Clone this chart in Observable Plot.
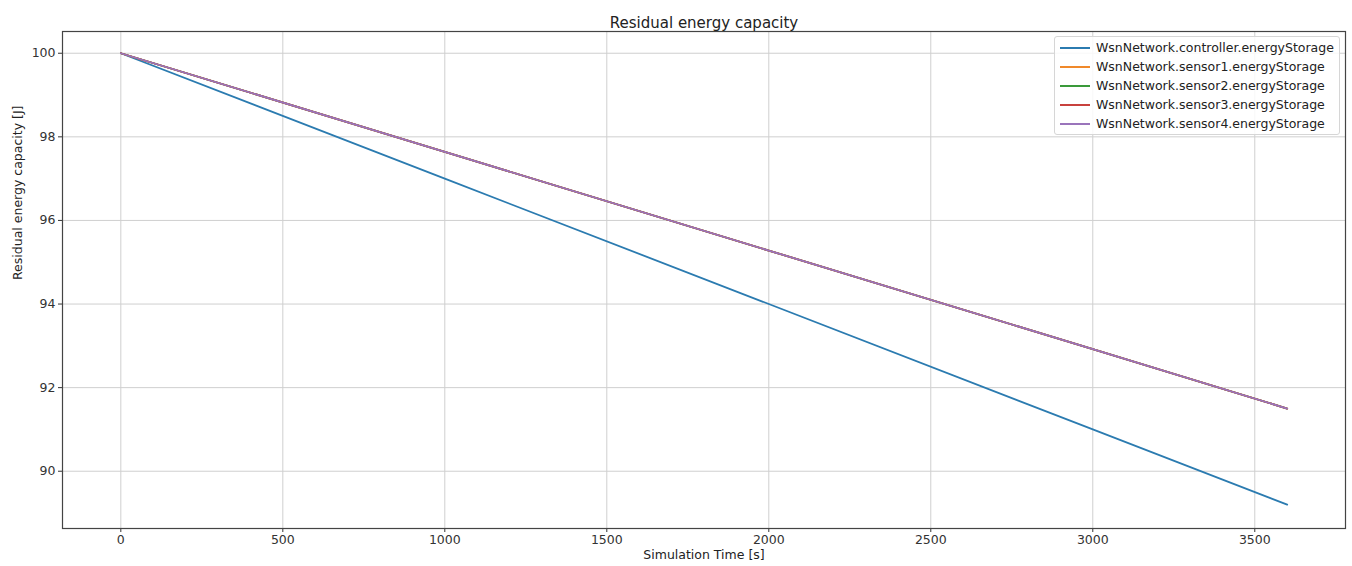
<!DOCTYPE html>
<html>
<head>
<meta charset="utf-8">
<script src="https://cdn.jsdelivr.net/npm/d3@7"></script>
<script src="https://cdn.jsdelivr.net/npm/@observablehq/plot@0.6"></script>
<style>
  body { margin: 0; background: #fff; font-family: "DejaVu Sans", sans-serif; }
  #wrap { position: relative; width: 1352px; height: 566px; }
  #legend { position: absolute; left: 1054px; top: 36px; width: 286px; height: 99px;
    border: 1px solid #d6d6d6; border-radius: 3px; background: rgba(255,255,255,0.85); box-sizing: border-box; }
  .row { position: absolute; left: 0; height: 19px; display: flex; align-items: center; font-size: 12.5px; color: #222; white-space: nowrap; }
  .sw { width: 30px; height: 2px; margin: 0 6px 0 5px; }
</style>
</head>
<body>
<div id="wrap"><div id="legend"></div></div>
<script>
const title = "Residual energy capacity";
const xLabel = "Simulation Time [s]";
const yLabel = "Residual energy capacity [J]";
const seriesNames = [
  "WsnNetwork.controller.energyStorage",
  "WsnNetwork.sensor1.energyStorage",
  "WsnNetwork.sensor2.energyStorage",
  "WsnNetwork.sensor3.energyStorage",
  "WsnNetwork.sensor4.energyStorage"
];
const colors = ["#2b7bb0", "#f0892a", "#3a9a3a", "#c8413e", "#9a74bb"];
const times = [0, 1000, 2000, 3000, 3600];
const controller = [100, 97.0, 94.0, 91.0, 89.2];
const sensor1 = [100, 97.64, 95.28, 92.92, 91.5];
const sensor2 = [100, 97.64, 95.28, 92.92, 91.5];
const sensor3 = [100, 97.64, 95.28, 92.92, 91.5];
const sensor4 = [100, 97.64, 95.28, 92.92, 91.5];
const xTicks = [0, 500, 1000, 1500, 2000, 2500, 3000, 3500];
const yTicks = [90, 92, 94, 96, 98, 100];

const allSeries = [controller, sensor1, sensor2, sensor3, sensor4];
const rows = [];
allSeries.forEach((vals, i) => vals.forEach((v, j) => rows.push({series: seriesNames[i], t: times[j], v})));

const chart = Plot.plot({
  width: 1352, height: 566,
  marginLeft: 62, marginRight: 7, marginTop: 31, marginBottom: 38,
  style: {fontFamily: "DejaVu Sans, sans-serif", fontSize: "12.5px", color: "#333", background: "transparent"},
  x: {domain: [-180, 3780]},
  y: {domain: [88.63, 100.52]},
  color: {domain: seriesNames, range: colors},
  marks: [
    Plot.gridX(xTicks, {stroke: "#cfcfcf", strokeOpacity: 1, strokeWidth: 1}),
    Plot.gridY(yTicks, {stroke: "#cfcfcf", strokeOpacity: 1, strokeWidth: 1}),
    Plot.axisX({ticks: xTicks, tickSize: 4, tickPadding: 3, label: null, fontSize: 12.5, tickFormat: d3.format("d")}),
    Plot.axisY({ticks: yTicks, tickSize: 4, tickPadding: 3, label: null, fontSize: 12.5, tickFormat: d3.format("d")}),
    Plot.line(rows, {x: "t", y: "v", z: "series", stroke: "series", strokeWidth: 1.8}),
    Plot.frame({stroke: "#444", strokeWidth: 1.2}),
    Plot.text([title], {frameAnchor: "top", dy: -14, fontSize: 15, fill: "#222", text: d => d}),
    Plot.text([xLabel], {frameAnchor: "bottom", dy: 30, fontSize: 12.5, fill: "#222", text: d => d}),
    Plot.text([yLabel], {frameAnchor: "left", dx: -45, rotate: -90, fontSize: 12.5, fill: "#222", text: d => d})
  ]
});
document.getElementById("wrap").prepend(chart);

const legend = document.getElementById("legend");
seriesNames.forEach((name, i) => {
  const r = document.createElement("div");
  r.className = "row";
  r.style.top = (1 + i * 19) + "px";
  r.innerHTML = `<span class="sw" style="background:${colors[i]}"></span><span>${name}</span>`;
  legend.appendChild(r);
});
</script>
</body>
</html>
